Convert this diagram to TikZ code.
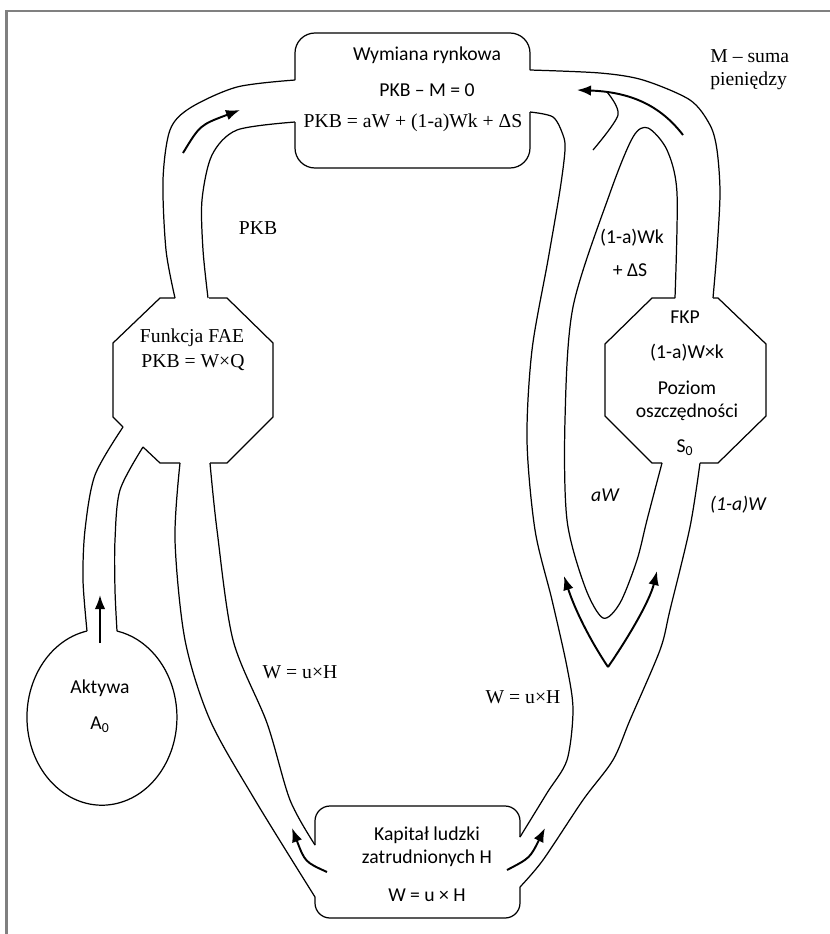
\documentclass[tikz,border=0pt]{standalone}
\usepackage{fontspec}
\setmainfont{Liberation Serif}
\newfontfamily\calibri{Carlito}
\usetikzlibrary{arrows.meta}

\begin{document}
\begin{tikzpicture}[x=0.02cm, y=-0.02cm,
            wall/.style={line width=0.7pt},
            flow/.style={line width=1.1pt, -{Latex[length=8pt,width=6pt]}},
            sans/.style={font=\fontsize{11.2}{13}\selectfont\calibri, inner sep=0pt},
            serif/.style={font=\fontsize{11.2}{13}\selectfont\rmfamily, inner sep=0pt},
            flowlbl/.style={font=\fontsize{11.2}{13}\selectfont\calibri\itshape, inner sep=0pt}
        ]
        \useasboundingbox (0,0) rectangle (830,934);

        % Frame
        \draw[gray, line width=1.2pt] (6.5,934) -- (6.5,11) -- (830,11);

        % Market exchange box (open on both sides)
        \draw[wall, rounded corners=0.4cm] (295,80) -- (295,33) -- (530,33) -- (530,70);
        \draw[wall, rounded corners=0.4cm] (530,112) -- (530,168) -- (295,168) -- (295,122);
        \node[sans] (mkt) at (427,55) {Wymiana rynkowa};
        \node[sans] (mkteq) at (427,90) {PKB – M = 0};
        \node[serif] (pkbeq) at (413,123) {PKB = aW + (1-a)Wk + ΔS};

        % Human capital box
        \draw[wall, rounded corners=0.3cm] (315,845) -- (315,806) -- (520,806) -- (520,837);
        \draw[wall, rounded corners=0.3cm] (520,887) -- (520,918) -- (315,918) -- (315,897);
        \node[sans] (kap) at (427,835) {Kapitał ludzki};
        \node[sans] (zatr) at (427,858) {zatrudnionych H};
        \node[sans] (weq) at (427,895) {W = u × H};

        % FAE octagon
        \draw[wall] (209,298) -- (227,298) -- (273,343) -- (273,417) -- (227,463) -- (210,463);
        \draw[wall] (180,463) -- (160,463) -- (143,447);
        \draw[wall] (123,427) -- (113,417) -- (113,343) -- (160,298) -- (175,298);
        \node[serif] (fae) at (192,338) {Funkcja FAE};
        \node[serif] (faeeq) at (193,363) {PKB = W×Q};

        % FKP octagon
        \draw[wall] (713,298) -- (718,298) -- (766,344) -- (766,416) -- (718,463) -- (700,463);
        \draw[wall] (662,463) -- (652,463) -- (605,416) -- (605,344) -- (652,298) -- (675,298);
        \node[sans] (fkp) at (685,317) {FKP};
        \node[sans] (fkpeq) at (687,353) {(1-a)W×k};
        \node[sans] (poz) at (687,388) {Poziom};
        \node[sans] (osz) at (687,412) {oszczędności};
        \node[sans] (s0) at (685,448) {S\textsubscript{0}};

        % Assets
        \draw[wall] (87,631) arc[start angle=101.5, end angle=438.5, x radius=1.5cm, y radius=1.76cm];
        \node[sans] (akt) at (100,688) {Aktywa};
        \node[sans] (a0) at (100,725) {A\textsubscript{0}};

        % Channel FAE -> market (PKB)
        \draw[wall] plot[smooth] coordinates {(295,80) (237,87) (190,108) (170,130) (163,180) (166,250) (175,298)};
        \draw[wall] plot[smooth] coordinates {(295,122) (237,130) (212,155) (202,200) (203,250) (208,298)};
        \draw[flow] (183,153) .. controls (200,125) .. (240,110);
        \node[serif] (pkb) at (258,228) {PKB};

        % Channel assets -> FAE
        \draw[wall] plot[smooth] coordinates {(123,427) (95,475) (85,530) (83,580) (87,631)};
        \draw[wall] plot[smooth] coordinates {(143,447) (120,490) (115,540) (115,590) (117,631)};
        \draw[flow] (100,643) -- (100,595);

        % Channel human capital -> FAE
        \draw[wall] plot[smooth] coordinates {(180,463) (175,540) (185,640) (210,720) (255,800) (315,897)};
        \draw[wall] plot[smooth] coordinates {(210,463) (217,530) (233,640) (267,723) (290,800) (315,845)};
        \draw[flow] (327,872) .. controls (305,862) .. (292,828);
        \node[serif] (wl) at (300,672) {W = u×H};

        % Channel human capital -> market / FKP
        \draw[wall] plot[smooth] coordinates {(530,112) (553,117) (563,135) (565,150) (560,190) (548,260) (532,350) (527,440) (535,530) (552,600) (567,667) (573,710) (567,760) (547,793) (520,837)};
        \draw[wall] plot[smooth] coordinates {(700,463) (690,527) (670,610) (660,650) (630,720) (613,760) (583,800) (543,860) (520,887)};
        \draw[flow] (507,870) .. controls (530,858) .. (545,828);
        \node[serif] (wr) at (523,697) {W = u×H};

        % Split aW / (1-a)W
        \draw[wall] plot[smooth] coordinates {(675,298) (677,193) (667,150) (648,128) (633,137) (610,193) (573,307) (565,420) (567,520) (585,587) (603,618) (620,603) (637,560) (647,520) (662,463)};
        \draw[flow] (608,667) .. controls (590,640) and (575,610) .. (564,576);
        \draw[flow] (608,667) .. controls (630,635) and (650,600) .. (657,571);
        \node[flowlbl] (aw) at (605,495) {aW};
        \node[flowlbl] (aw1) at (738,505) {(1-a)W};

        % FKP -> market
        \draw[wall] plot[smooth] coordinates {(530,70) (600,73) (643,80) (690,100) (710,125) (717,150) (720,193) (717,250) (713,298)};
        \draw[wall] plot[smooth] coordinates {(607,92) (618,115) (593,150)};
        \draw[flow] (683,135) .. controls (660,105) and (630,92) .. (577,90);
        \node[sans] (wk) at (632,238) {(1-a)Wk};
        \node[sans] (ds) at (630,270) {+ ΔS};

        % Money
        \node[serif, anchor=west, align=left] (mon) at (710,70) {M – suma\\pieniędzy};

    \end{tikzpicture}
\end{document}
